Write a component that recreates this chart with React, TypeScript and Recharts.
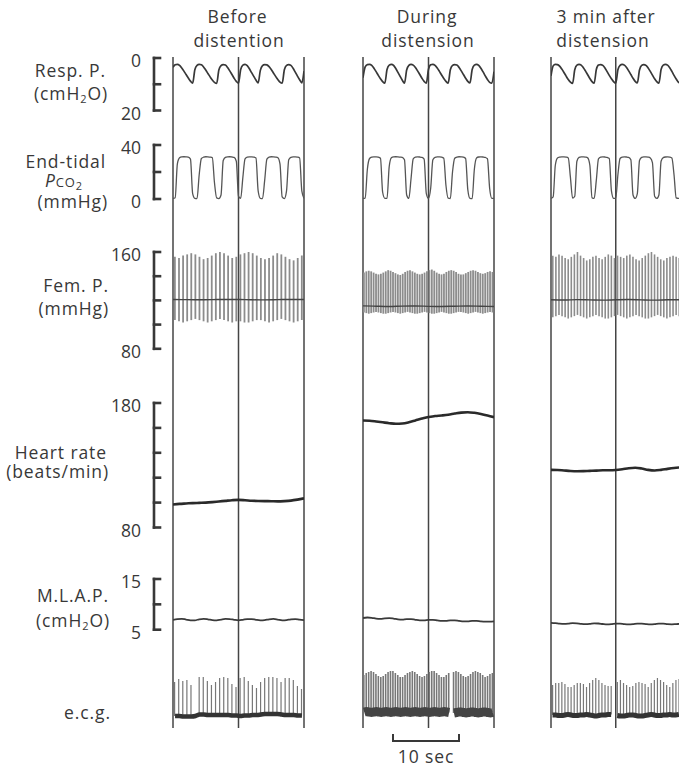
import { Bar, ComposedChart, Line, LineChart, ReferenceLine, XAxis, YAxis } from 'recharts'

const INK = '#383838'
const FONT = '"Open Sans", "DejaVu Sans", sans-serif'
const PAD = 3
const AXIS_PAD = 14

// time markers on every record (s)
const timeMarks = [0, 10, 20]

// Resp. P. (cmH2O), one sample every 1/3 s
const respBefore = [
  3.5, 2.6, 2.4, 2.8, 3.8, 5.0, 6.3, 7.6, 8.8, 9.6,
  4.5, 2.8, 2.4, 2.6, 3.4, 4.6, 5.9, 7.2, 8.4, 9.3,
  9.7, 4.6, 2.9, 2.5, 2.7, 3.6, 4.9, 6.3, 7.7, 8.9,
  9.6, 4.4, 2.7, 2.4, 2.9, 4.1, 5.6, 7.0, 8.4, 9.5,
  4.7, 2.9, 2.5, 2.6, 3.3, 4.4, 5.7, 7.0, 8.2, 9.2,
  9.6, 4.5, 2.8, 2.5, 2.8, 3.9, 5.4, 6.9, 8.3, 9.5,
  5.0,
]
const respDuring = [
  7.5, 3.4, 2.5, 2.4, 2.8, 3.9, 5.2, 6.6, 7.9, 9.0, 9.6,
  4.4, 2.7, 2.4, 2.8, 4.0, 5.5, 7.0, 8.5, 9.6,
  4.6, 2.8, 2.4, 2.7, 3.6, 4.9, 6.3, 7.7, 8.9, 9.6,
  4.3, 2.6, 2.4, 2.8, 3.8, 5.1, 6.5, 7.8, 8.9, 9.6,
  4.5, 2.8, 2.5, 2.7, 3.6, 4.9, 6.3, 7.7, 8.9, 9.5,
  4.4, 2.7, 2.4, 2.8, 3.9, 5.3, 6.8, 8.2, 9.3, 9.6, 5.2,
]
const respAfter = [
  6.8, 3.0, 2.4, 2.5, 3.1, 4.2, 5.5, 6.9, 8.2, 9.2, 9.7,
  4.5, 2.7, 2.4, 2.7, 3.7, 5.0, 6.4, 7.8, 9.0, 9.6,
  4.4, 2.7, 2.5, 2.8, 3.8, 5.2, 6.6, 7.9, 9.0, 9.6,
  4.5, 2.8, 2.4, 2.7, 3.6, 4.9, 6.3, 7.7, 8.9, 9.5,
  4.6, 2.8, 2.5, 2.8, 3.8, 5.1, 6.5, 7.9, 9.0, 9.6,
  4.4, 2.7, 2.4, 2.7, 3.7, 5.1, 6.6, 8.0, 9.2, 9.6,
]

// End-tidal Pco2 (mmHg), one sample every 1/3 s
const co2Before = [
  0.4, 1.0, 26, 30.5, 31.2, 31.3, 31.2, 31.0, 29.5, 4,
  0.5, 0.3, 18, 30, 31, 31.3, 31.2, 31, 30.6, 12,
  0.8, 0.3, 3, 28.5, 30.8, 31.2, 31.3, 31.1, 30.8, 28,
  2, 0.4, 16, 29.8, 31, 31.2, 31.2, 31, 30.3, 6,
  0.5, 0.3, 14, 29.5, 31, 31.3, 31.2, 31, 30.7, 26,
  1.5, 0.3, 6, 29, 30.9, 31.2, 31.2, 31, 30.4, 6,
  0.5,
]
const co2During = [
  0.4, 0.6, 22, 30, 31, 31.2, 31.2, 31, 30.2, 5,
  0.5, 0.4, 24, 30.5, 31.2, 31.3, 31.2, 31, 30.8, 29,
  3, 0.4, 15, 29.8, 31, 31.2, 31.1, 30.8, 29.5, 4,
  0.5, 8, 29, 30.9, 31.2, 31.2, 31, 30.2, 10, 0.6,
  0.3, 20, 30.2, 31.1, 31.3, 31.2, 31, 30, 7, 0.5,
  0.3, 22, 30.4, 31.1, 31.2, 31.1, 30.8, 29.8, 8, 0.5,
  0.4,
]
const co2After = [
  0.4, 1.5, 25, 30.3, 31, 31.2, 31.2, 31, 30.4, 16,
  0.6, 2, 28, 30.8, 31.2, 31.2, 31, 30.5, 25, 1,
  0.4, 14, 29.8, 31, 31.2, 31.1, 30.8, 30, 6, 0.5,
  0.4, 18, 30, 31, 31.2, 31.1, 30.8, 29, 3, 0.4,
  4, 28.5, 30.8, 31.2, 31.2, 31, 30.4, 27, 2, 0.4,
  3, 28, 30.7, 31.1, 31.2, 31, 30.3, 18, 0.8, 0.4,
  0.6,
]

// Fem. P. (mmHg), systolic and diastolic of each beat
const femSysBefore = [
  157, 156, 158, 159, 160, 159, 157, 155, 156, 158, 160, 161, 160, 158, 156, 157,
  159, 160, 161, 160, 158, 156, 155, 156, 158, 160, 159, 157, 155, 154, 156, 158,
]
const femDiaBefore = [
  104, 103, 102, 103, 104, 105, 104, 103, 102, 103, 104, 105, 104, 103, 102, 103,
  103, 102, 102, 103, 104, 104, 103, 102, 103, 104, 105, 104, 103, 102, 103, 104,
]
const femSysDuring = [
  143, 144, 144.5, 144, 143, 142, 141.5, 142, 143,
  144, 145, 144.5, 143.5, 142.5, 141.5, 141, 142, 143.5,
  144.5, 145, 144, 143, 142, 141.5, 142, 143, 144,
  145, 145.5, 144.5, 143, 142, 141.5, 142, 143.5, 144.5,
  145, 144.5, 143.5, 142, 141.5, 141.5, 142.5, 143.5, 144.5,
  145, 144.5, 143.5, 142.5, 142, 142.5, 143.5, 144, 143.5,
]
const femDiaDuring = [
  110, 109.5, 109, 109.5, 110, 110.5, 110, 109.5, 109,
  109, 109.5, 110, 110.5, 110, 109.5, 109, 109.5, 110,
  110.5, 110, 109.5, 109, 109, 109.5, 110, 110.5, 110,
  109.5, 109, 109, 109.5, 110, 110.5, 110, 109.5, 109,
  109, 109.5, 110, 110.5, 110.5, 110, 109.5, 109, 109.5,
  110, 110.5, 110, 109.5, 109, 109.5, 110, 110.5, 110,
]
const femSysAfter = [
  157, 156, 158, 157, 155, 154, 156, 158, 160, 157, 155, 153, 154, 156, 157, 155, 154, 156, 158, 157, 155,
  157, 156, 155, 157, 158, 156, 154, 153, 155, 157, 159, 160, 158, 156, 154, 153, 155, 156, 157, 156, 155,
]
const femDiaAfter = [
  106, 107, 108, 107, 106, 105, 106, 107, 108, 107, 106, 105, 106, 107, 108, 107, 106, 105, 105, 106, 107,
  108, 107, 106, 105, 106, 107, 108, 107, 106, 105, 105, 106, 107, 108, 107, 106, 105, 106, 107, 108, 107,
]
// mean femoral pressure, every 2 s
const femMeanBefore = [120.8, 120.6, 120.5, 120.6, 120.8, 120.7, 120.5, 120.4, 120.6, 120.8, 120.7]
const femMeanDuring = [115.5, 115.2, 115, 115.3, 115.4, 115.1, 115, 115.2, 115.4, 115.2, 115]
const femMeanAfter = [120.5, 120.3, 120.6, 120.4, 120.2, 120.5, 120.7, 120.4, 120.2, 120.5, 120.6]

// Heart rate (beats/min), every 1 s
const hrBefore = [98.5, 99, 99.3, 99.6, 99.8, 100, 100.4, 100.9, 101.4, 101.9, 102.2, 101.9, 101.5, 101.3, 101.2, 101.1, 101, 101.2, 101.6, 102.4, 103.4]
const hrDuring = [166, 165.8, 165.2, 164.5, 163.8, 163.3, 163.5, 164.5, 166, 167.5, 168.8, 169.5, 170, 170.6, 171.5, 172.3, 172.6, 172.1, 171.2, 170, 168.6]
const hrAfter = [126.3, 126.2, 125.8, 125.4, 125.2, 125.3, 125.5, 125.7, 126, 126, 126.2, 126.8, 127.6, 128, 127.4, 126.3, 125.8, 126.3, 127.1, 127.8, 128.3]

// M.L.A.P. (cmH2O), every 2/3 s
const mlapBefore = [6.95, 7.1, 7.15, 7.0, 6.85, 6.85, 7.05, 7.15, 7.05, 6.9, 6.85, 7.0, 7.12, 7.1, 6.95, 6.85, 6.95, 7.1, 7.1, 6.95, 6.85, 6.9, 7.05, 7.12, 7.0, 6.85, 6.9, 7.05, 7.1, 6.98, 6.9]
const mlapDuring = [7.3, 7.4, 7.35, 7.2, 7.15, 7.25, 7.3, 7.2, 7.05, 7.0, 7.1, 7.1, 6.95, 6.85, 6.85, 6.95, 6.95, 6.85, 6.75, 6.75, 6.85, 6.85, 6.75, 6.65, 6.65, 6.75, 6.75, 6.65, 6.6, 6.6, 6.65]
const mlapAfter = [6.35, 6.3, 6.2, 6.15, 6.2, 6.3, 6.25, 6.15, 6.1, 6.15, 6.25, 6.22, 6.12, 6.05, 6.1, 6.2, 6.2, 6.1, 6.05, 6.1, 6.2, 6.18, 6.1, 6.05, 6.1, 6.2, 6.18, 6.08, 6.05, 6.1, 6.15]

// e.c.g. (arbitrary units): R-wave peak and baseline of each beat
const ecgPeakBefore = [38, 41, 39, 40, 35, null, 43, 43, 39, 35, 38, 42, 43, 42, 36, 33, 42, 43, 39, 35, 32, 38, 42, 43, 43, 42, 38, 42, 42, 40, 34, 31]
const ecgBaseBefore = [4, 4, 3.5, 3.5, 3.5, 4, 5.5, 5.5, 5, 5, 5, 5, 5, 5, 4.5, 4.5, 4, 4.5, 4.5, 5, 5, 5.5, 6, 6, 6, 6, 5.5, 5, 5, 5, 4.5, 4.5]
const ecgPeakDuring = [
  45, 47, 48, 49, 48, 46, 44, 43, 44,
  46, 48, 49, 49, 47, 45, 43, 43, 45,
  47, 48, 49, 48, 46, 44, 43, 44, 46,
  48, 49, 49, 47, 45, 43, 43, 45, 47,
  null, 48, 49, 48, 46, 44, 43, 44, 46,
  48, 49, 48, 47, 45, 43, 44, 46, 47,
]
const ecgBaseDuring = [
  8, 8.5, 8, 7.5, 8, 8.5, 8, 7.5, 8,
  8.5, 8, 7.5, 8, 8.5, 8, 7.5, 8, 8.5,
  8, 7.5, 8, 8.5, 8, 7.5, 8, 8.5, 8,
  7.5, 8, 8.5, 8, 7.5, 8, 8.5, 8, 7.5,
  null, 7, 7.5, 8, 8, 7.5, 7, 7.5, 8,
  8, 7.5, 7, 7.5, 8, 8, 7.5, 7, 7.5,
]
const ecgPeakAfter = [
  35, 37, 37, 38, 36, 33, 33, 35, 37, 37, 36, 33, 37, 40, 42, 40, 37, 35, 34, 34,
  null,
  38, 40, 37, 35, 33, 34, 37, 38, 37, 36, 33, 37, 40, 42, 40, 38, 35, 33, 37, 40, 41,
]
const ecgBaseAfter = [
  5, 5, 4.5, 4.5, 5, 5.5, 5, 4.5, 4.5, 5, 5, 5.5, 5, 4.5, 4, 4.5, 5, 5, 5.5, 5.5,
  null,
  4.5, 4, 4, 4.5, 5, 5, 4.5, 4, 4, 4.5, 5, 5.5, 5, 4.5, 4.5, 5, 5, 5.5, 5, 5, 5.5,
]

type Row = { top: number; height: number; domain: [number, number]; ticks?: number[]; reversed?: boolean }

const ROWS: Record<string, Row> = {
  resp: { top: 57.5, height: 52.5, domain: [0, 20], ticks: [0, 10, 20], reversed: true },
  co2: { top: 145, height: 54, domain: [0, 40], ticks: [0, 20, 40] },
  fem: { top: 251.7, height: 96.8, domain: [80, 160], ticks: [80, 100, 120, 140, 160] },
  hr: { top: 402.5, height: 124.5, domain: [80, 180], ticks: [80, 100, 120, 140, 160, 180] },
  mlap: { top: 579.3, height: 50.7, domain: [5, 15], ticks: [5, 10, 15] },
  ecg: { top: 670, height: 50, domain: [0, 50] },
}

const panels = [
  {
    title: [['Before', 237.5], ['distention', 239]] as [string, number][],
    left: 173, width: 131,
    resp: respBefore, co2: co2Before, sys: femSysBefore, dia: femDiaBefore, mean: femMeanBefore,
    hr: hrBefore, mlap: mlapBefore, peak: ecgPeakBefore, base: ecgBaseBefore,
    femBar: 1.8, ecgBar: 1.2, baseW: 4.5, baseColor: '#333',
  },
  {
    title: [['During', 427], ['distension', 428]] as [string, number][],
    left: 362.5, width: 131,
    resp: respDuring, co2: co2During, sys: femSysDuring, dia: femDiaDuring, mean: femMeanDuring,
    hr: hrDuring, mlap: mlapDuring, peak: ecgPeakDuring, base: ecgBaseDuring,
    femBar: 1.8, ecgBar: 1.6, baseW: 9, baseColor: '#444',
  },
  {
    title: [['3 min after', 606], ['distension', 603]] as [string, number][],
    left: 550.5, width: 129.5,
    resp: respAfter, co2: co2After, sys: femSysAfter, dia: femDiaAfter, mean: femMeanAfter,
    hr: hrAfter, mlap: mlapAfter, peak: ecgPeakAfter, base: ecgBaseAfter,
    femBar: 1.6, ecgBar: 1.2, baseW: 5, baseColor: '#333',
  },
]

function Trace({ row, left, width, values, stroke = INK, strokeWidth = 1.5 }: {
  row: Row; left: number; width: number; values: number[]; stroke?: string; strokeWidth?: number
}) {
  const data = values.map((v, i) => ({ i, v }))
  return (
    <div style={{ position: 'absolute', left, top: row.top - PAD }}>
      <LineChart width={width} height={row.height + PAD * 2} data={data} margin={{ top: PAD, right: 0, bottom: PAD, left: 0 }}>
        <XAxis dataKey="i" hide />
        <YAxis hide domain={row.domain} reversed={row.reversed} />
        <Line type="monotone" dataKey="v" stroke={stroke} strokeWidth={strokeWidth} dot={false} isAnimationActive={false} />
      </LineChart>
    </div>
  )
}

function Pulses({ row, left, width, low, high, fill, barSize, baseWidth, baseColor }: {
  row: Row; left: number; width: number; low: (number | null)[]; high: (number | null)[]
  fill: string; barSize: number; baseWidth?: number; baseColor?: string
}) {
  const data = high.map((h, i) => ({
    i,
    range: h == null || low[i] == null ? null : [low[i], h],
    base: low[i],
  }))
  return (
    <div style={{ position: 'absolute', left, top: row.top - PAD }}>
      <ComposedChart width={width} height={row.height + PAD * 2} data={data} margin={{ top: PAD, right: 0, bottom: PAD, left: 0 }}>
        <XAxis dataKey="i" hide />
        <YAxis hide domain={row.domain} />
        <Bar dataKey="range" fill={fill} barSize={barSize} isAnimationActive={false} />
        {baseWidth ? (
          <Line type="monotone" dataKey="base" stroke={baseColor} strokeWidth={baseWidth} dot={false} isAnimationActive={false} />
        ) : null}
      </ComposedChart>
    </div>
  )
}

function TimeLines({ left, width }: { left: number; width: number }) {
  const data = timeMarks.map((t) => ({ t, y: 0.5 }))
  return (
    <div style={{ position: 'absolute', left: left - 2, top: 56.5 }}>
      <LineChart width={width + 4} height={671} data={data} margin={{ top: 0, right: 2, bottom: 0, left: 2 }}>
        <XAxis dataKey="t" type="number" domain={[0, 20]} hide />
        <YAxis hide domain={[0, 1]} />
        <Line dataKey="y" stroke="none" dot={false} isAnimationActive={false} />
        {timeMarks.map((t) => (
          <ReferenceLine key={t} x={t} stroke="#444" strokeWidth={1.5} ifOverflow="extendDomain" />
        ))}
      </LineChart>
    </div>
  )
}

function Bracket({ row }: { row: Row }) {
  const [lo, hi] = row.domain
  const tick = (p: any) => {
    const v = p.payload.value
    if (v !== lo && v !== hi) return <g />
    return (
      <text x={p.x - 19} y={p.y + 2} textAnchor="end" dominantBaseline="central" fontFamily={FONT} fontSize={17.5} fill={INK}>
        {v}
      </text>
    )
  }
  return (
    <div style={{ position: 'absolute', left: 90, top: row.top - AXIS_PAD }}>
      <LineChart width={72} height={row.height + AXIS_PAD * 2} data={[{ v: lo }, { v: hi }]} margin={{ top: AXIS_PAD, right: 0, bottom: AXIS_PAD, left: 0 }}>
        <XAxis hide />
        <YAxis
          orientation="right"
          width={8}
          domain={row.domain}
          ticks={row.ticks}
          interval={0}
          reversed={row.reversed}
          tickSize={6}
          tickMargin={0}
          axisLine={{ stroke: INK, strokeWidth: 2.6, strokeLinecap: 'square' }}
          tickLine={{ stroke: INK, strokeWidth: 2.6, strokeLinecap: 'square' }}
          tick={tick}
        />
        <Line dataKey="v" stroke="none" dot={false} isAnimationActive={false} />
      </LineChart>
    </div>
  )
}

function Label({ x, y, children, align = 'right' }: { x: number; y: number; children: any; align?: 'right' | 'center' }) {
  const style: any = {
    position: 'absolute',
    top: y - 9,
    height: 18,
    lineHeight: '18px',
    fontFamily: FONT,
    fontSize: 17.5,
    letterSpacing: 0.9,
    color: INK,
    whiteSpace: 'nowrap',
  }
  if (align === 'right') {
    style.left = 0
    style.width = x
    style.textAlign = 'right'
  } else {
    style.left = x - 100
    style.width = 200
    style.textAlign = 'center'
  }
  return <div style={style}>{children}</div>
}

const sub = (s: string) => <sub style={{ fontSize: 11, lineHeight: 0, verticalAlign: '-3px' }}>{s}</sub>

export default function App() {
  return (
    <div style={{ position: 'fixed', left: 0, top: 0, width: 679, height: 767, overflow: 'hidden', background: '#fff' }}>
      {panels.map((p, k) => (
        <TimeLines key={`t${k}`} left={p.left} width={p.width} />
      ))}

      {panels.map((p, k) => (
        <div key={`p${k}`}>
          {p.title.map(([s, cx], j) => (
            <Label key={s} x={cx} y={16 + j * 24} align="center">{s}</Label>
          ))}
          <Trace row={ROWS.resp} left={p.left} width={p.width} values={p.resp} strokeWidth={1.7} />
          <Trace row={ROWS.co2} left={p.left} width={p.width} values={p.co2} stroke="#555" strokeWidth={1.3} />
          <Pulses row={ROWS.fem} left={p.left} width={p.width} low={p.dia} high={p.sys} fill="#8c8c8c" barSize={p.femBar} />
          <Trace row={ROWS.fem} left={p.left} width={p.width} values={p.mean} stroke="#444" strokeWidth={1.4} />
          <Trace row={ROWS.hr} left={p.left} width={p.width} values={p.hr} stroke="#2a2a2a" strokeWidth={2.6} />
          <Trace row={ROWS.mlap} left={p.left} width={p.width} values={p.mlap} stroke="#3a3a3a" strokeWidth={1.8} />
          <Pulses row={ROWS.ecg} left={p.left} width={p.width} low={p.base} high={p.peak} fill="#777" barSize={p.ecgBar} baseWidth={p.baseW} baseColor={p.baseColor} />
        </div>
      ))}

      {['resp', 'co2', 'fem', 'hr', 'mlap'].map((r) => (
        <Bracket key={r} row={ROWS[r]} />
      ))}

      <Label x={106} y={70}>Resp. P.</Label>
      <Label x={108} y={93}>(cmH{sub('2')}O)</Label>
      <Label x={106} y={161}>End-tidal</Label>
      <Label x={64} y={180} align="center">
        <i>P</i>
        <span style={{ fontSize: 13 }}>CO</span>
        {sub('2')}
      </Label>
      <Label x={108} y={201}>(mmHg)</Label>
      <Label x={109} y={285}>Fem. P.</Label>
      <Label x={109} y={308}>(mmHg)</Label>
      <Label x={107} y={452}>Heart rate</Label>
      <Label x={109} y={471}>(beats/min)</Label>
      <Label x={109} y={595}>M.L.A.P.</Label>
      <Label x={110} y={620}>(cmH{sub('2')}O)</Label>
      <Label x={111} y={712}>e.c.g.</Label>

      <div
        style={{
          position: 'absolute',
          left: 392,
          top: 734,
          width: 68,
          height: 8,
          boxSizing: 'border-box',
          borderLeft: `2.5px solid ${INK}`,
          borderRight: `2.5px solid ${INK}`,
          borderBottom: `2.5px solid ${INK}`,
        }}
      />
      <Label x={426} y={756} align="center">10 sec</Label>
    </div>
  )
}
